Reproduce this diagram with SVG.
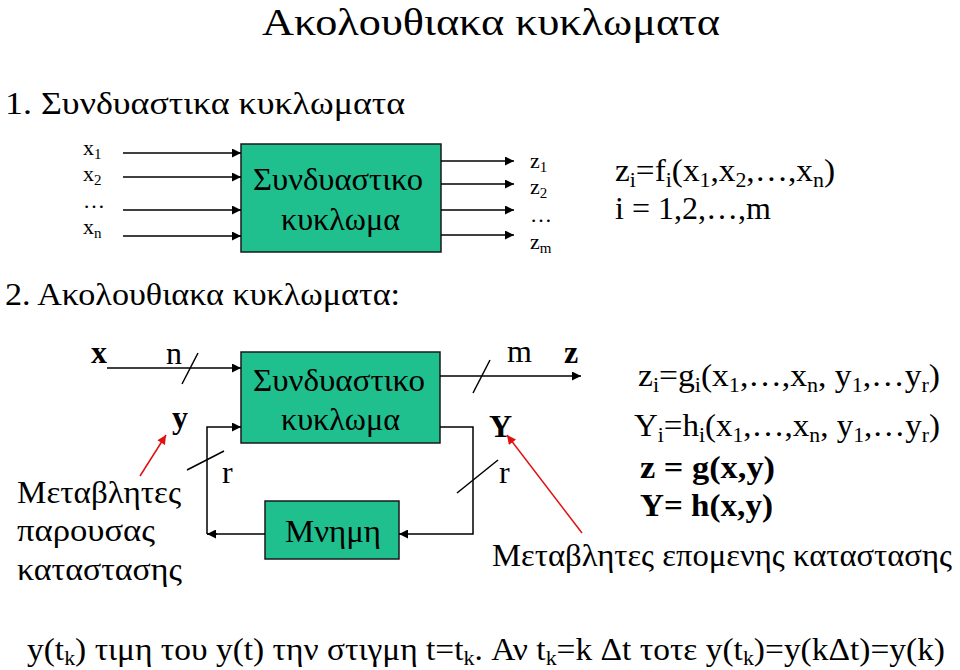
<svg xmlns="http://www.w3.org/2000/svg" width="960" height="670" viewBox="0 0 960 670">
<style>
text{font-family:"Liberation Serif","DejaVu Serif","Times New Roman",serif;fill:#000}
.t{font-size:32px}
.s{font-size:22px}
.f{font-size:32px}
.b{font-weight:bold}
.box{fill:#1fbf8e;stroke:#1a1a1a;stroke-width:1.5}
.ln{stroke:#000;stroke-width:1.5;fill:none}
.red{stroke:#e01010;stroke-width:1.5;fill:none}
</style>
<defs>
<marker id="ah" viewBox="0 0 10 10" refX="10" refY="5" markerWidth="10" markerHeight="9" markerUnits="userSpaceOnUse" orient="auto"><path d="M0,0L10,5L0,10z" fill="#000"/></marker>
<marker id="rh" viewBox="0 0 10 10" refX="10" refY="5" markerWidth="10" markerHeight="9" markerUnits="userSpaceOnUse" orient="auto"><path d="M0,0L10,5L0,10z" fill="#e01010"/></marker>
</defs>
<rect width="960" height="670" fill="#fff"/>
<text x="262" y="35" font-size="38" textLength="458" lengthAdjust="spacingAndGlyphs">Ακολουθιακα κυκλωματα</text>
<text x="5" y="114" class="t" textLength="400" lengthAdjust="spacingAndGlyphs">1.  Συνδυαστικα κυκλωματα</text>

<g id="comb1">
<rect class="box" x="241" y="144" width="200" height="108"/>
<text x="253" y="190" class="t" textLength="170" lengthAdjust="spacingAndGlyphs">Συνδυαστικο</text>
<text x="281" y="230" class="t" textLength="119" lengthAdjust="spacingAndGlyphs">κυκλωμα</text>
</g>
<g id="inputs1" class="s">
<text x="83" y="155">x<tspan font-size="15" dy="4">1</tspan></text>
<text x="83" y="181">x<tspan font-size="15" dy="4">2</tspan></text>
<text x="83" y="208">…</text>
<text x="83" y="234">x<tspan font-size="15" dy="4">n</tspan></text>
</g>
<g id="outputs1" class="s">
<text x="530" y="168">z<tspan font-size="15" dy="4">1</tspan></text>
<text x="530" y="194">z<tspan font-size="15" dy="4">2</tspan></text>
<text x="530" y="222">…</text>
<text x="530" y="249">z<tspan font-size="15" dy="4">m</tspan></text>
</g>
<g id="formula1" class="f">
<text x="615" y="181" textLength="220" lengthAdjust="spacingAndGlyphs">z<tspan font-size="21" dy="6">i</tspan><tspan dy="-6">=f</tspan><tspan font-size="21" dy="6">i</tspan><tspan dy="-6">(x</tspan><tspan font-size="21" dy="6">1</tspan><tspan dy="-6">,x</tspan><tspan font-size="21" dy="6">2</tspan><tspan dy="-6">,…,x</tspan><tspan font-size="21" dy="6">n</tspan><tspan dy="-6">)</tspan></text>
<text x="615" y="219">i = 1,2,…,m</text>
</g>

<text x="5" y="305" class="t" textLength="395" lengthAdjust="spacingAndGlyphs">2.  Ακολουθιακα κυκλωματα:</text>

<g id="comb2">
<rect class="box" x="241" y="352" width="199" height="91"/>
<text x="253" y="391" class="t" textLength="172" lengthAdjust="spacingAndGlyphs">Συνδυαστικο</text>
<text x="281" y="430" class="t" textLength="119" lengthAdjust="spacingAndGlyphs">κυκλωμα</text>
</g>
<g id="memory">
<rect class="box" x="265" y="501" width="134" height="58"/>
<text x="285" y="542" class="t" textLength="96" lengthAdjust="spacingAndGlyphs">Μνημη</text>
</g>

<g id="connectors">
<line class="ln" x1="123" y1="153" x2="241" y2="153" marker-end="url(#ah)"/>
<line class="ln" x1="123" y1="177" x2="241" y2="177" marker-end="url(#ah)"/>
<line class="ln" x1="123" y1="210" x2="241" y2="210" marker-end="url(#ah)"/>
<line class="ln" x1="123" y1="236" x2="241" y2="236" marker-end="url(#ah)"/>
<line class="ln" x1="441" y1="161" x2="514" y2="161" marker-end="url(#ah)"/>
<line class="ln" x1="441" y1="184" x2="514" y2="184" marker-end="url(#ah)"/>
<line class="ln" x1="441" y1="210" x2="514" y2="210" marker-end="url(#ah)"/>
<line class="ln" x1="441" y1="235" x2="514" y2="235" marker-end="url(#ah)"/>

<line class="ln" x1="107" y1="368" x2="241" y2="368" marker-end="url(#ah)"/>
<line class="ln" x1="182" y1="384" x2="198" y2="353"/>
<polyline class="ln" points="265,534 207,534"/>
<polyline class="ln" points="207,534 207,427 241,427" marker-end="url(#ah)"/>
<line class="ln" x1="217" y1="534" x2="207" y2="534" marker-end="url(#ah)"/>
<line class="ln" x1="187" y1="470" x2="224" y2="451"/>
<line class="ln" x1="440" y1="376" x2="581" y2="376" marker-end="url(#ah)"/>
<line class="ln" x1="473" y1="393" x2="490" y2="360"/>
<polyline class="ln" points="440,427 473,427 473,534 399,534" marker-end="url(#ah)"/>
<line class="ln" x1="457" y1="493" x2="498" y2="460"/>
<line class="red" x1="140" y1="476" x2="166" y2="435" marker-end="url(#rh)"/>
<line class="red" x1="582" y1="533" x2="507" y2="435" marker-end="url(#rh)"/>
</g>

<g id="labels2">
<text x="91" y="363" font-size="32" class="b">x</text>
<text x="166" y="364" font-size="32">n</text>
<text x="172" y="428" font-size="32" class="b">y</text>
<text x="222" y="483" font-size="32">r</text>
<text x="507" y="362" font-size="32">m</text>
<text x="564" y="363" font-size="32" class="b">z</text>
<text x="489" y="437" font-size="32" class="b">Y</text>
<text x="499" y="483" font-size="32">r</text>
</g>
<g id="legend-left" class="t">
<text x="17" y="503" textLength="164" lengthAdjust="spacingAndGlyphs">Μεταβλητες</text>
<text x="17" y="541" textLength="138" lengthAdjust="spacingAndGlyphs">παρουσας</text>
<text x="17" y="580" textLength="165" lengthAdjust="spacingAndGlyphs">καταστασης</text>
</g>
<g id="formula2" class="f">
<text x="638" y="386" textLength="302" lengthAdjust="spacingAndGlyphs">z<tspan font-size="21" dy="6">i</tspan><tspan dy="-6">=g</tspan><tspan font-size="21" dy="6">i</tspan><tspan dy="-6">(x</tspan><tspan font-size="21" dy="6">1</tspan><tspan dy="-6">,…,x</tspan><tspan font-size="21" dy="6">n</tspan><tspan dy="-6">, y</tspan><tspan font-size="21" dy="6">1</tspan><tspan dy="-6">,…y</tspan><tspan font-size="21" dy="6">r</tspan><tspan dy="-6">)</tspan></text>
<text x="634" y="436" textLength="306" lengthAdjust="spacingAndGlyphs">Y<tspan font-size="21" dy="6">i</tspan><tspan dy="-6">=h</tspan><tspan font-size="21" dy="6">i</tspan><tspan dy="-6">(x</tspan><tspan font-size="21" dy="6">1</tspan><tspan dy="-6">,…,x</tspan><tspan font-size="21" dy="6">n</tspan><tspan dy="-6">, y</tspan><tspan font-size="21" dy="6">1</tspan><tspan dy="-6">,…y</tspan><tspan font-size="21" dy="6">r</tspan><tspan dy="-6">)</tspan></text>
<text x="640" y="478" class="b" textLength="135" lengthAdjust="spacingAndGlyphs">z = g(x,y)</text>
<text x="640" y="516" class="b" textLength="133" lengthAdjust="spacingAndGlyphs">Y= h(x,y)</text>
</g>
<text x="492" y="566" class="t" textLength="460" lengthAdjust="spacingAndGlyphs">Μεταβλητες επομενης καταστασης</text>
<text x="27" y="660" font-size="32" textLength="918" lengthAdjust="spacingAndGlyphs">y(t<tspan font-size="21" dy="5">k</tspan><tspan dy="-5">) τιμη του y(t) την στιγμη t=t</tspan><tspan font-size="21" dy="5">k</tspan><tspan dy="-5">. Αν t</tspan><tspan font-size="21" dy="5">k</tspan><tspan dy="-5">=k Δt τοτε y(t</tspan><tspan font-size="21" dy="5">k</tspan><tspan dy="-5">)=y(kΔt)=y(k)</tspan></text>
</svg>
